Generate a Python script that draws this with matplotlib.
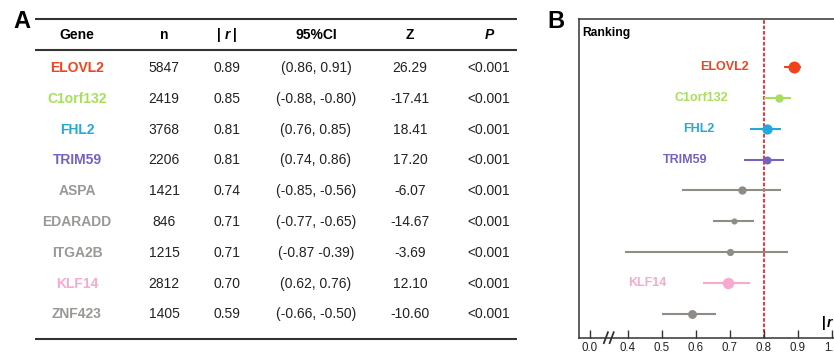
import matplotlib
matplotlib.use("Agg")
import matplotlib.pyplot as plt
import matplotlib.transforms as mtransforms

plt.rcParams['font.family'] = ['Liberation Sans', 'DejaVu Sans']

# ---------------- data ----------------
genes = ["ELOVL2", "C1orf132", "FHL2", "TRIM59", "ASPA", "EDARADD", "ITGA2B", "KLF14", "ZNF423"]
n_vals = [5847, 2419, 3768, 2206, 1421, 846, 1215, 2812, 1405]
r_abs = [0.89, 0.85, 0.81, 0.81, 0.74, 0.71, 0.71, 0.70, 0.59]
ci_low = [0.86, -0.88, 0.76, 0.74, -0.85, -0.77, -0.87, 0.62, -0.66]
ci_high = [0.91, -0.80, 0.85, 0.86, -0.56, -0.65, -0.39, 0.76, -0.50]
ci_text = ["(0.86, 0.91)", "(-0.88, -0.80)", "(0.76, 0.85)", "(0.74, 0.86)", "(-0.85, -0.56)",
           "(-0.77, -0.65)", "(-0.87 -0.39)", "(0.62, 0.76)", "(-0.66, -0.50)"]
z_vals = [26.29, -17.41, 18.41, 17.20, -6.07, -14.67, -3.69, 12.10, -10.60]
p_text = ["<0.001"] * 9
# forest plot point estimates (|r|) shown in panel B
r_plot = [0.888, 0.845, 0.81, 0.81, 0.735, 0.712, 0.70, 0.695, 0.587]
labelled = [True, True, True, True, False, False, False, True, False]
x_ticks = [0.288, 0.4, 0.5, 0.6, 0.7, 0.8, 0.9, 1.0]
x_ticklabels = ["0.0", "0.4", "0.5", "0.6", "0.7", "0.8", "0.9", "1.0"]
threshold = 0.8

# ---------------- style ----------------
GREY = "#8F8C86"
colors = ["#F2421B", "#A6E05A", "#22A9DC", "#7561C4", GREY, GREY, GREY, "#F9A8CE", GREY]
name_colors = ["#F2421B", "#A6E05A", "#22A9DC", "#7561C4", "#9A9894", "#9A9894", "#9A9894", "#F9A8CE", "#9A9894"]
msizes = [8.6, 6.0, 7.4, 5.8, 6.0, 4.4, 5.2, 8.2, 6.4]
W, H = 834, 357

fig = plt.figure(figsize=(W / 100, H / 100), dpi=100)

# ---------------- Panel A: table ----------------
axt = fig.add_axes([0, 0, 1, 1])
axt.set_xlim(0, W)
axt.set_ylim(H, 0)
axt.axis("off")

col_x = [77, 164, 227, 316, 410, 489]
row0, drow = 68, 30.8
header_y = 35
fs = 10
line_c = "#333333"

axt.text(22, 22, "A", fontsize=17, fontweight="bold", ha="center", va="center")
for yy in (19, 50, 339):
    axt.plot([35, 517], [yy, yy], color=line_c, lw=1.5, solid_capstyle="butt")

axt.text(col_x[0], header_y, "Gene", fontsize=fs, fontweight="bold", ha="center", va="center")
axt.text(col_x[1], header_y, "n", fontsize=fs, fontweight="bold", ha="center", va="center")
axt.text(col_x[2] - 8, header_y, "|", fontsize=fs, fontweight="bold", ha="center", va="center")
axt.text(col_x[2], header_y, "r", fontsize=fs, fontweight="bold", fontstyle="italic",
         ha="center", va="center")
axt.text(col_x[2] + 8, header_y, "|", fontsize=fs, fontweight="bold", ha="center", va="center")
axt.text(col_x[3], header_y, "95%CI", fontsize=fs, fontweight="bold", ha="center", va="center")
axt.text(col_x[4], header_y, "Z", fontsize=fs, fontweight="bold", ha="center", va="center")
axt.text(col_x[5], header_y, "P", fontsize=fs, fontweight="bold", fontstyle="italic",
         ha="center", va="center")

for i, g in enumerate(genes):
    y = row0 + i * drow
    axt.text(col_x[0], y, g, fontsize=fs, fontweight="bold", color=name_colors[i],
             ha="center", va="center")
    axt.text(col_x[1], y, f"{n_vals[i]}", fontsize=fs, ha="center", va="center", color="#222222")
    axt.text(col_x[2], y, f"{r_abs[i]:.2f}", fontsize=fs, ha="center", va="center", color="#222222")
    axt.text(col_x[3], y, ci_text[i], fontsize=fs, ha="center", va="center", color="#222222")
    axt.text(col_x[4], y, f"{z_vals[i]:.2f}", fontsize=fs, ha="center", va="center", color="#222222")
    axt.text(col_x[5], y, p_text[i], fontsize=fs, ha="center", va="center", color="#222222")

axt.text(556, 22, "B", fontsize=17, fontweight="bold", ha="center", va="center")

# ---------------- Panel B: forest plot ----------------
left_px, right_px, top_px, bot_px = 579, 849, 19, 338
ax = fig.add_axes([left_px / W, (H - bot_px) / H, (right_px - left_px) / W, (bot_px - top_px) / H])
ax.set_xlim(0.2559, 1.05)
ax.set_ylim(8.78, -1.55)

for sp in ["left", "top", "bottom", "right"]:
    ax.spines[sp].set_linewidth(1.1)
    ax.spines[sp].set_color(line_c)

ax.axvline(threshold, color="#E8262B", lw=1.3, ls=(0, (2, 1)), zorder=1)

for i, g in enumerate(genes):
    lo = min(abs(ci_low[i]), abs(ci_high[i]))
    hi = max(abs(ci_low[i]), abs(ci_high[i]))
    ax.plot([lo, hi], [i, i], color=colors[i], lw=1.5, solid_capstyle="butt", zorder=2)
    ax.plot([r_plot[i]], [i], "o", color=colors[i], ms=msizes[i], mec="none", zorder=3)
    if labelled[i]:
        ax.annotate(g, xy=(lo, i), xytext=(-26, 0), textcoords="offset points",
                    ha="right", va="center", fontsize=9, fontweight="bold", color=colors[i])

ax.set_yticks([])
ax.set_xticks(x_ticks)
ax.set_xticklabels(x_ticklabels, fontsize=8.3, color="#222222")
ax.tick_params(axis="x", direction="in", length=6, width=1.0, color=line_c, pad=3)

ax.text(0.012, 0.955, "Ranking", transform=ax.transAxes, fontsize=8.7, fontweight="bold",
        ha="left", va="center")
trans = mtransforms.blended_transform_factory(ax.transData, ax.transAxes)
ax.text(0.972, 0.047, "|", transform=trans, fontsize=10, fontweight="bold", ha="left", va="center")
ax.text(0.985, 0.047, "r", transform=trans, fontsize=10, fontweight="bold", fontstyle="italic",
        ha="left", va="center")

# axis break marks
for xb in (0.335, 0.352):
    ax.plot([xb - 0.006, xb + 0.006], [-0.016, 0.018], color=line_c, lw=1.3,
            transform=trans, clip_on=False, zorder=5)

fig.savefig("out.png", dpi=100)
